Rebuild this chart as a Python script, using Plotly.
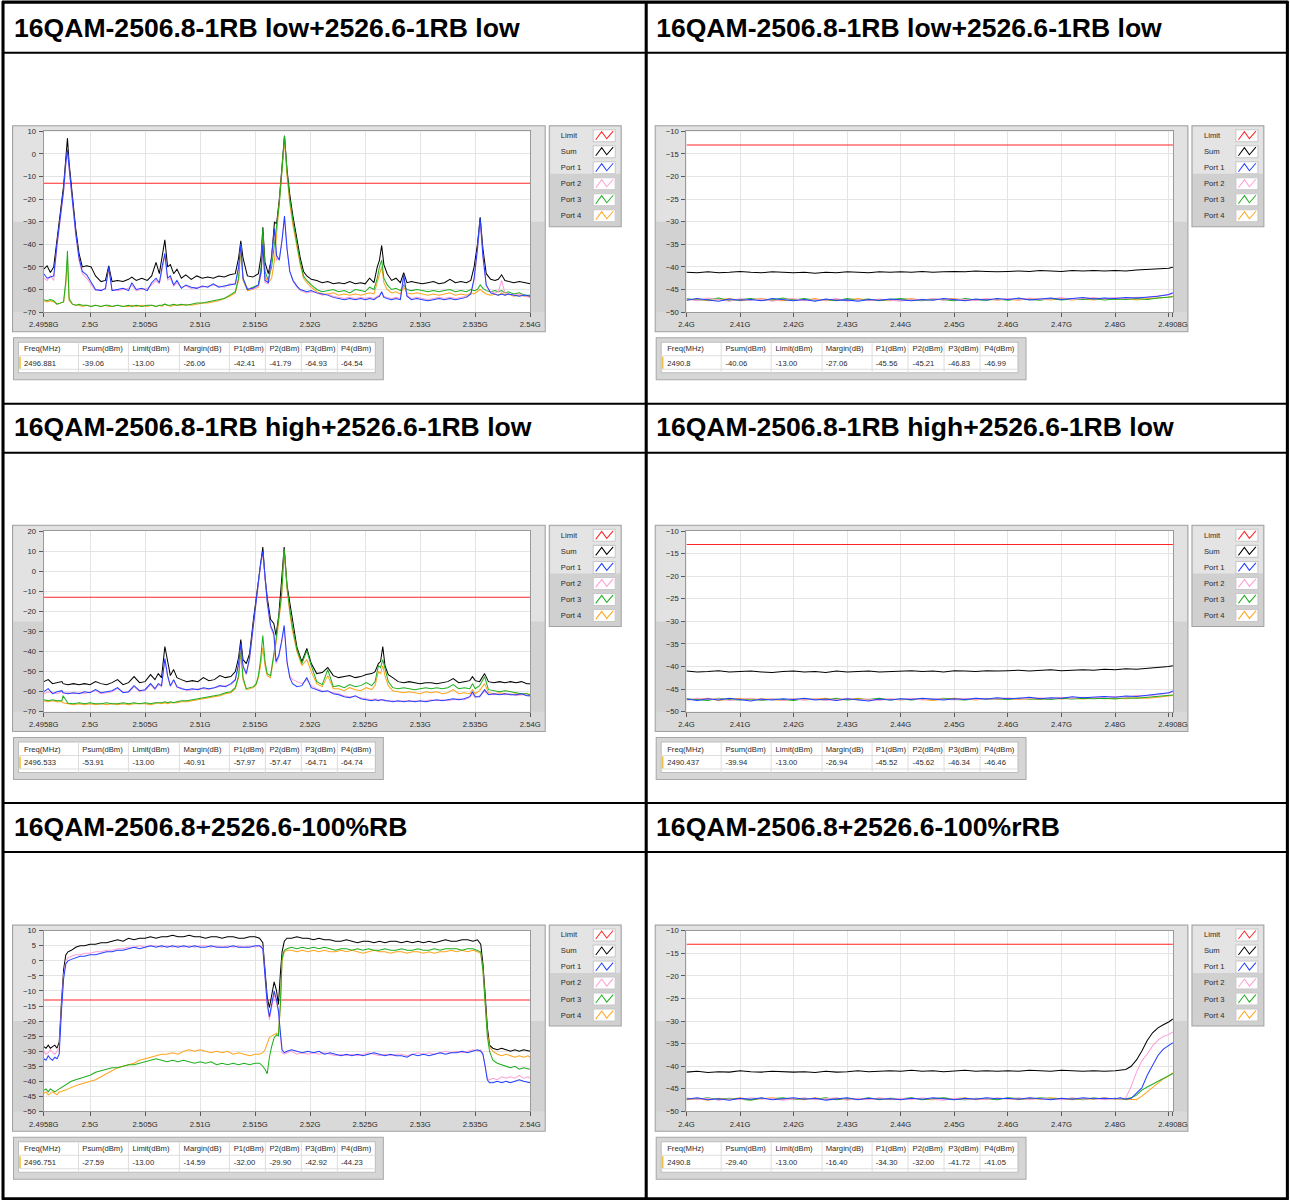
import plotly.graph_objects as go

W, H = 1290, 1200
FONT = "Liberation Sans, Arial, sans-serif"

TITLES = [
    "16QAM-2506.8-1RB low+2526.6-1RB low",
    "16QAM-2506.8-1RB low+2526.6-1RB low",
    "16QAM-2506.8-1RB high+2526.6-1RB low",
    "16QAM-2506.8-1RB high+2526.6-1RB low",
    "16QAM-2506.8+2526.6-100%RB",
    "16QAM-2506.8+2526.6-100%rRB",
]
SERIES_NAMES = ["Limit", "Sum", "Port 1", "Port 2", "Port 3", "Port 4"]
SERIES_COLORS = ["#ff2424", "#000000", "#2040ff", "#ff9ed6", "#1fae1f", "#ffa41c"]
LIMIT_DBM = -13.0

LEFT_TICK_VALS = [2495.8, 2500, 2505, 2510, 2515, 2520, 2525, 2530, 2535, 2540]
LEFT_TICK_TEXT = ["2.4958G", "2.5G", "2.505G", "2.51G", "2.515G", "2.52G", "2.525G", "2.53G", "2.535G", "2.54G"]
RIGHT_TICK_VALS = [2400, 2410, 2420, 2430, 2440, 2450, 2460, 2470, 2480, 2490, 2490.8]
RIGHT_TICK_TEXT = ["2.4G", "2.41G", "2.42G", "2.43G", "2.44G", "2.45G", "2.46G", "2.47G", "2.48G", "", "2.4908G"]

TABLE_HEADER = ["Freq(MHz)", "Psum(dBm)", "Limit(dBm)", "Margin(dB)", "P1(dBm)", "P2(dBm)", "P3(dBm)", "P4(dBm)"]
TABLE_1 = ["2496.881", "-39.06", "-13.00", "-26.06", "-42.41", "-41.79", "-64.93", "-64.54"]
TABLE_2 = ["2490.8", "-40.06", "-13.00", "-27.06", "-45.56", "-45.21", "-46.83", "-46.99"]
TABLE_3 = ["2496.533", "-53.91", "-13.00", "-40.91", "-57.97", "-57.47", "-64.71", "-64.74"]
TABLE_4 = ["2490.437", "-39.94", "-13.00", "-26.94", "-45.52", "-45.62", "-46.34", "-46.46"]
TABLE_5 = ["2496.751", "-27.59", "-13.00", "-14.59", "-32.00", "-29.90", "-42.92", "-44.23"]
TABLE_6 = ["2490.8", "-29.40", "-13.00", "-16.40", "-34.30", "-32.00", "-41.72", "-41.05"]

# ---------------- chart 1 (MHz / dBm) ----------------
C1_X = [2495.8, 2496.1, 2496.4, 2496.7, 2497.0, 2497.3, 2497.6, 2497.8, 2497.95, 2498.1,
        2498.4, 2498.7, 2499.0, 2499.3, 2499.7, 2500.1, 2500.5, 2501.0, 2501.4, 2501.7,
        2502.0, 2502.5, 2503.0, 2503.5, 2503.8, 2504.2, 2504.7, 2505.2, 2505.6, 2506.0,
        2506.3, 2506.55, 2506.8, 2507.05, 2507.3, 2507.6, 2507.9, 2508.3, 2508.7, 2509.2,
        2509.7, 2510.2, 2510.7, 2511.2, 2511.7, 2512.2, 2512.7, 2513.2, 2513.5, 2513.7,
        2513.9, 2514.3, 2514.8, 2515.3, 2515.55, 2515.7, 2515.9, 2516.2, 2516.5, 2516.76,
        2516.95, 2517.2, 2517.45, 2517.67, 2517.9, 2518.15, 2518.45, 2518.8, 2519.1, 2519.4,
        2519.7, 2520.1, 2520.6, 2521.1, 2521.6, 2522.1, 2522.6, 2523.1, 2523.6, 2524.1,
        2524.6, 2525.0, 2525.4, 2525.8, 2526.1, 2526.3, 2526.5, 2526.7, 2527.0, 2527.4,
        2527.8, 2528.2, 2528.5, 2528.8, 2529.2, 2529.7, 2530.2, 2530.7, 2531.2, 2531.7,
        2532.2, 2532.7, 2533.2, 2533.7, 2534.2, 2534.6, 2534.9, 2535.2, 2535.45, 2535.7,
        2536.0, 2536.4, 2536.8, 2537.1, 2537.4, 2537.7, 2538.0, 2538.5, 2539.0, 2539.5,
        2540.0]
C1_SUM = [-51, -49.5, -52.5, -50, -38, -26, -14, -2, 7, -4,
          -20, -33, -44, -50, -49.5, -50, -54, -56.5, -56, -49.5,
          -56.5, -56, -56.5, -55.5, -54.5, -56, -55, -56, -54, -48,
          -53, -46, -38, -50, -49, -53, -51, -55, -53.5, -55.5,
          -54, -55, -54.5, -55, -54, -54.5, -53.5, -53, -46, -38.5,
          -46, -54, -54.5, -53, -45, -32.5, -48, -53, -46, -30,
          -31, -20, -5, 8, -7, -18, -28, -38, -46, -52,
          -54, -55.5, -56, -57, -56.5, -57.5, -57, -57.5, -56.5, -57.5,
          -57, -57.5, -55, -57, -50, -47, -40.5, -49, -53, -56,
          -55, -57, -52.5, -57, -56.5, -57, -57.5, -57, -56.5, -57.5,
          -57, -55.5, -57, -56.5, -57, -56, -50, -40, -28, -42,
          -53, -55.5, -56, -55.5, -53.5, -56, -56.5, -57, -56.5, -57,
          -57.5]
C1_P1 = [-53, -55, -54.5, -54, -40, -28, -16, -4, 2, -6,
         -22, -35, -46, -52, -53.5, -57, -60, -60.5, -59.5, -50,
         -60.5, -60, -59.5, -60.5, -57, -60, -59.5, -60.5, -57, -55,
         -57, -50, -44, -55, -54, -58, -56, -59.5, -58, -59,
         -59.5, -58.5, -59, -57.5, -59, -58.5, -58, -57.5, -50, -40,
         -55, -60, -59.5, -58, -52, -40, -56, -57, -45, -33,
         -45, -47, -38, -27.5, -42, -52, -56, -58.5, -60, -60.5,
         -61, -60.5, -61.5, -62, -62.5, -63.5, -64, -64.5, -64, -64.5,
         -64, -64.5, -64, -64.5, -63.5, -63, -61, -63.5, -64, -64.5,
         -64, -64.5, -53.5, -63, -64.5, -64, -64.5, -65, -64.5, -64,
         -64.5, -64, -64.5, -64, -63.5, -62, -55, -42, -28.5, -45,
         -58, -61.5, -62, -62.5, -62, -62.5, -62, -62.5, -63, -62.5,
         -63]
C1_P2 = [-55, -56, -54, -56, -41, -29, -17, -5, 1, -7,
         -23, -36, -47, -53, -55, -58, -60.5, -60, -60, -51,
         -60, -60.5, -60, -59.5, -58, -60.5, -60, -59.5, -58, -56,
         -57.5, -51, -45, -56, -55, -58.5, -57, -59, -58.5, -59.5,
         -59, -59, -58.5, -58, -58.5, -59, -57.5, -58, -51, -41,
         -55.5, -59.5, -60, -58.5, -53, -42, -57, -57.5, -46, -34,
         -47, -46, -38, -28.5, -42, -52, -56.5, -59, -60.5, -61,
         -61.5, -61, -61.5, -62.5, -62, -63, -63.5, -64, -63.5, -64,
         -63.5, -64, -63.5, -64, -63, -62.5, -61.5, -63, -63.5, -64,
         -63.5, -64, -55, -62.5, -64, -63.5, -64, -64.5, -64, -63.5,
         -64, -63.5, -64, -63.5, -63, -62, -56, -43, -30, -46,
         -58.5, -61, -61.5, -61, -56, -61.5, -62, -62.5, -62, -63,
         -63.5]
C1_P3 = [-64.5, -65, -64.5, -65, -66.5, -66, -65.5, -56, -43, -64,
         -66.5, -67, -66.5, -67, -67, -67.5, -67, -67.5, -67, -67,
         -67.5, -67, -67.5, -67, -67.5, -67, -67.5, -67, -67, -67.5,
         -67, -67, -66.5, -67, -67, -66.5, -67, -66.5, -67, -66.5,
         -66, -66, -65.5, -65, -64.5, -64, -62.5, -61, -55, -40,
         -55, -60, -59, -58, -50, -33, -52, -56, -50, -40,
         -33, -22, -7, 8, -8, -20, -30, -40, -48, -54,
         -56, -58, -60, -61, -60.5, -60, -61, -60.5, -61.5, -60,
         -60.5, -61, -59, -60, -55, -50, -47, -55, -58, -60,
         -59.5, -60.5, -58, -60, -60.5, -60, -60.5, -61, -60.5, -61,
         -60.5, -60, -61, -60.5, -61, -60, -60.5, -60, -58, -59.5,
         -60.5, -61, -60.5, -61, -60.5, -61.5, -61, -62, -61.5, -62.5,
         -62.5]
C1_P4 = [-65, -65.5, -65, -65.5, -66.5, -66, -65.5, -58, -47, -65,
         -66.5, -67, -67, -67.5, -67, -67.5, -67, -67.5, -67, -67.5,
         -67.5, -67, -67.5, -67.5, -67, -67.5, -67, -67.5, -67, -67.5,
         -67, -67.5, -66.5, -67, -67.5, -67, -67, -67, -66.5, -67,
         -66.5, -66, -66, -65.5, -65, -64, -63, -61.5, -56, -42,
         -56, -60.5, -60, -59, -52, -36, -54, -57, -55, -47,
         -36, -24, -9, 6, -10, -22, -32, -42, -49, -55,
         -57, -59, -61, -62, -62, -61.5, -62.5, -62, -62.5, -62,
         -62.5, -62, -61.5, -62, -57, -53, -50, -57, -60, -61.5,
         -61, -62, -59, -61.5, -62, -61.5, -62, -62.5, -62, -62.5,
         -62, -61.5, -62.5, -62, -62.5, -61.5, -62, -61, -60, -61,
         -62, -62.5, -62, -62.5, -61.5, -62.5, -62, -63, -62.5, -63,
         -63]

# ---------------- charts 2 and 4 (MHz / dBm) ----------------
C2_X = [2400, 2402, 2404, 2406, 2408, 2410, 2412, 2414, 2416, 2418,
        2420, 2422, 2424, 2426, 2428, 2430, 2432, 2434, 2436, 2438,
        2440, 2442, 2444, 2446, 2448, 2450, 2452, 2454, 2456, 2458,
        2460, 2462, 2464, 2466, 2468, 2470, 2472, 2474, 2476, 2478,
        2480, 2482, 2484, 2486, 2488, 2490, 2490.8]
C2_SUM = [-41.2, -41.3, -41.1, -41.3, -41.2, -41.0, -41.2, -41.3, -41.1, -41.2,
          -41.3, -41.2, -41.4, -41.2, -41.3, -41.1, -41.2, -41.3, -41.1, -41.2,
          -41.1, -41.2, -41.0, -41.2, -41.1, -41.0, -41.1, -40.9, -41.0, -41.1,
          -41.0, -40.9, -41.0, -40.8, -40.9, -41.0, -40.8, -40.9, -40.8, -40.9,
          -40.8, -40.9, -40.7, -40.6, -40.5, -40.3, -40.1]
C2_P1 = [-47.4, -47.0, -47.3, -47.6, -47.1, -47.4, -47.2, -47.5, -47.0, -47.3,
         -47.5, -47.2, -47.6, -47.1, -47.4, -47.3, -47.6, -47.2, -47.4, -47.1,
         -47.3, -47.5, -47.2, -47.4, -47.0, -47.3, -47.5, -47.1, -47.3, -47.0,
         -47.2, -46.9, -47.3, -47.1, -46.9, -47.2, -47.0, -46.8, -47.1, -46.9,
         -47.0, -46.8, -46.9, -46.7, -46.5, -46.1, -45.7]
C2_P2 = [-47.1, -47.5, -46.9, -47.3, -47.6, -47.0, -47.4, -47.1, -47.6, -47.2,
         -47.0, -47.5, -47.2, -47.4, -47.0, -47.6, -47.2, -47.5, -47.1, -47.4,
         -47.6, -47.1, -47.4, -47.0, -47.4, -47.1, -47.2, -47.5, -47.0, -47.3,
         -47.0, -47.3, -46.9, -47.2, -47.1, -46.8, -47.2, -47.0, -46.8, -47.1,
         -46.8, -47.0, -46.7, -46.8, -46.4, -46.2, -45.9]
C2_P3 = [-47.0, -47.4, -47.2, -46.9, -47.5, -47.2, -47.0, -47.4, -47.3, -46.9,
         -47.3, -47.0, -47.4, -47.2, -47.5, -47.0, -47.3, -47.1, -47.5, -47.2,
         -47.0, -47.3, -47.5, -47.1, -47.3, -47.5, -47.0, -47.3, -47.4, -47.1,
         -47.4, -47.1, -47.2, -47.4, -47.0, -47.3, -47.1, -47.2, -47.0, -47.3,
         -47.1, -47.2, -47.0, -47.2, -46.9, -46.8, -46.6]
C2_P4 = [-47.3, -47.1, -47.5, -47.2, -47.0, -47.5, -47.3, -47.0, -47.4, -47.5,
         -47.2, -47.4, -47.0, -47.5, -47.2, -47.4, -47.0, -47.4, -47.3, -47.5,
         -47.2, -47.0, -47.4, -47.3, -47.1, -47.0, -47.4, -47.2, -47.1, -47.4,
         -47.1, -47.4, -47.0, -47.1, -47.3, -47.0, -47.3, -47.1, -47.3, -47.0,
         -47.2, -47.0, -47.3, -47.0, -46.9, -46.7, -46.5]

C4_X = C2_X
C4_SUM = [-41.0, -41.2, -41.1, -40.9, -41.2, -41.1, -41.0, -41.2, -41.3, -41.1,
          -41.0, -41.2, -41.1, -41.3, -41.0, -41.2, -41.1, -41.0, -41.2, -41.1,
          -41.0, -40.9, -41.1, -41.0, -41.2, -40.9, -41.0, -41.1, -40.9, -41.0,
          -40.9, -40.8, -41.0, -40.9, -40.7, -40.9, -40.8, -40.7, -40.8, -40.6,
          -40.7, -40.5, -40.6, -40.4, -40.3, -40.0, -39.8]
C4_P1 = [-47.2, -47.5, -47.1, -47.4, -47.0, -47.3, -47.6, -47.2, -47.4, -47.1,
         -47.3, -47.0, -47.4, -47.2, -47.5, -47.1, -47.3, -47.6, -47.2, -47.4,
         -47.1, -47.3, -47.0, -47.2, -47.4, -47.1, -47.3, -47.0, -47.2, -46.9,
         -47.1, -47.0, -46.8, -47.1, -46.9, -47.0, -46.7, -46.9, -46.8, -46.6,
         -46.8, -46.5, -46.6, -46.3, -46.1, -45.8, -45.4]
C4_P2 = [-47.4, -47.0, -47.3, -47.1, -47.5, -47.2, -47.0, -47.4, -47.1, -47.5,
         -47.2, -47.4, -47.1, -47.5, -47.3, -47.0, -47.4, -47.2, -47.5, -47.1,
         -47.3, -47.0, -47.4, -47.1, -47.2, -47.4, -47.0, -47.3, -47.1, -47.2,
         -46.9, -47.2, -47.0, -46.9, -47.1, -46.8, -47.0, -46.8, -46.9, -46.7,
         -46.6, -46.8, -46.4, -46.5, -46.2, -45.9, -45.6]
C4_P3 = [-47.1, -47.3, -47.5, -47.0, -47.3, -47.4, -47.1, -47.5, -47.2, -47.3,
         -47.5, -47.1, -47.3, -47.4, -47.0, -47.4, -47.2, -47.3, -47.0, -47.4,
         -47.2, -47.4, -47.1, -47.3, -47.0, -47.3, -47.4, -47.1, -47.3, -47.1,
         -47.3, -47.0, -47.2, -47.1, -47.3, -47.0, -47.2, -47.0, -47.1, -47.0,
         -47.2, -46.9, -47.0, -46.8, -46.7, -46.5, -46.3]
C4_P4 = [-47.4, -47.2, -47.0, -47.5, -47.2, -47.0, -47.4, -47.1, -47.3, -47.5,
         -47.1, -47.4, -47.2, -47.0, -47.4, -47.3, -47.0, -47.4, -47.3, -47.2,
         -47.4, -47.1, -47.3, -47.5, -47.2, -47.0, -47.2, -47.4, -47.0, -47.3,
         -47.1, -47.3, -47.1, -47.3, -47.0, -47.2, -47.0, -47.2, -47.0, -47.1,
         -47.0, -47.1, -46.9, -47.0, -46.8, -46.6, -46.4]

# ---------------- chart 3 (MHz / dBm) ----------------
C3_X = [2495.8, 2496.2, 2496.6, 2497.0, 2497.45, 2497.55, 2498.0, 2498.5, 2499.0, 2499.5,
        2500.0, 2500.5, 2501.0, 2501.5, 2502.0, 2502.5, 2503.0, 2503.5, 2504.0, 2504.5,
        2505.0, 2505.5, 2505.9, 2506.2, 2506.5, 2506.8, 2507.05, 2507.3, 2507.6, 2507.9,
        2508.3, 2508.8, 2509.3, 2509.8, 2510.3, 2510.8, 2511.3, 2511.8, 2512.3, 2512.8,
        2513.2, 2513.5, 2513.7, 2513.9, 2514.2, 2514.5, 2514.85, 2515.1, 2515.3, 2515.5,
        2515.7, 2515.9, 2516.1, 2516.4, 2516.7, 2516.9, 2517.15, 2517.4, 2517.64, 2517.9,
        2518.15, 2518.4, 2518.8, 2519.25, 2519.7, 2520.1, 2520.6, 2521.1, 2521.6, 2522.1,
        2522.6, 2523.1, 2523.6, 2524.1, 2524.6, 2525.1, 2525.6, 2525.9, 2526.2, 2526.4,
        2526.6, 2526.8, 2527.1, 2527.5, 2528.0, 2528.5, 2529.0, 2529.5, 2530.0, 2530.5,
        2531.0, 2531.5, 2532.0, 2532.5, 2533.0, 2533.5, 2534.0, 2534.5, 2534.75, 2535.0,
        2535.4, 2535.85, 2536.2, 2536.7, 2537.2, 2537.7, 2538.2, 2538.7, 2539.2, 2539.7,
        2540.0]
C3_SUM = [-55, -54, -56, -55.5, -55, -56, -56.5, -56, -56.5, -56,
          -56.5, -55, -56, -56.5, -55.5, -54, -56.5, -55.5, -52.5, -55.5,
          -55, -51.5, -54, -51, -53, -37.5, -45.5, -52, -49, -53,
          -54, -55, -54.5, -55, -53, -54.5, -54, -52, -53, -52.5,
          -50, -43, -34, -44, -46, -41, -24, -13, -3, 5,
          12, -3, -13, -24, -26, -32, -22, -5, 12, -7,
          -16, -26, -38, -45, -38.5, -46, -51, -50.5, -48, -52,
          -53, -52.5, -52, -53, -52.5, -51.5, -51, -50, -46, -45,
          -37.5, -47, -51.5, -53, -55, -55.5, -55, -55.5, -56, -55.5,
          -55.5, -56, -55.5, -55, -53.5, -55.5, -55, -54.5, -52.5, -54.5,
          -55, -51, -55, -55.5, -55, -55.5, -55, -55.5, -55, -56,
          -56]
C3_P1 = [-60, -58.5, -61, -60, -59.5, -60.5, -61, -60.5, -61, -60,
         -60.5, -59, -60.5, -60, -59.5, -58, -60.5, -60, -57, -59.5,
         -59, -56, -58.5, -56, -57, -43.5, -52, -57, -54, -57.5,
         -58.5, -59, -58.5, -59, -58, -58.5, -58, -57, -57.5, -56,
         -54, -46, -36, -47, -51, -43, -26, -14, -4, 4,
         10, -4, -15, -27, -31, -45, -42, -35, -27, -45,
         -53, -56, -57.5, -57, -53, -58, -59, -60, -59.5, -61,
         -61.5, -62.5, -63, -62, -63.5, -64, -64.5, -64, -64.5, -64,
         -64, -64.5, -64.5, -65, -64.5, -65, -64.5, -65, -64.5, -65,
         -64.5, -64, -64.5, -64, -63.5, -64, -63.5, -62.5, -60, -62.5,
         -62.5, -59, -61.5, -61, -61.5, -61, -61.5, -61.5, -61, -62,
         -62]
C3_P2 = [-61, -60, -60.5, -61, -60, -61, -60.5, -61, -60.5, -61,
         -60, -59.5, -61, -60.5, -60, -58.5, -60, -60.5, -57.5, -60,
         -59.5, -56.5, -59, -56.5, -57.5, -44, -52.5, -57.5, -54.5, -58,
         -58, -59.5, -59, -58.5, -58.5, -59, -58, -57.5, -57, -56.5,
         -54.5, -47, -37, -48, -51.5, -44, -27, -15, -5, 3,
         9, -5, -16, -28, -32, -46, -43, -36, -28, -46,
         -52, -54, -55, -56, -54, -57, -58.5, -59.5, -60, -60.5,
         -61, -62, -62.5, -62.5, -63, -63.5, -64, -63.5, -64, -64.5,
         -64.5, -64, -65, -64.5, -65, -64.5, -65, -64.5, -65, -64.5,
         -64, -64.5, -64, -64.5, -64, -63.5, -64, -63, -61, -63,
         -62, -60, -61, -61.5, -61, -61.5, -61, -62, -61.5, -61.5,
         -62.5]
C3_P3 = [-64, -64.5, -64, -64.5, -64.5, -62, -65.8, -66, -65.5, -66,
         -65.5, -66, -66, -65.5, -66, -66, -65.5, -66, -65.5, -66,
         -65.5, -66, -65.5, -65.5, -65.5, -65, -65.5, -65, -65.5, -65,
         -64.5, -64.5, -64, -63.5, -63, -62.5, -62, -61.5, -60.5, -60,
         -58, -52, -38, -53, -58.5, -58, -57.5, -56, -52, -44,
         -32, -45, -51, -52, -42, -34, -23, -12, 11, -8,
         -19, -28, -39, -46, -39.5, -47, -55, -56.5, -49, -57.5,
         -57, -58, -56.5, -57.5, -57, -55.5, -57, -55, -47, -48,
         -44, -48, -55, -58, -58.5, -58, -58.5, -59, -58.5, -58,
         -58.5, -58, -58.5, -58, -56.5, -58.5, -58, -58.5, -56, -58.5,
         -57, -52.5, -59, -59.5, -60, -59.5, -60, -60.5, -61, -61,
         -61.5]
C3_P4 = [-64.5, -65, -64.5, -65, -65, -65.5, -66, -66.5, -66, -66.5,
         -66, -66.5, -66, -66.5, -66, -66.5, -66, -66.5, -66, -66,
         -66, -66.5, -66, -65.5, -66, -65.5, -66, -65.5, -65.5, -65.5,
         -65, -65, -64.5, -64, -63.5, -63, -62.5, -62, -61, -60.5,
         -58.5, -53, -40, -54, -59, -58.5, -58, -56.5, -53, -47,
         -38, -47, -52, -53, -44, -36, -25, -13, 10, -9,
         -21, -30, -40, -47, -44, -50, -56, -57.5, -52, -58.5,
         -58.5, -59.5, -58, -59, -59.5, -58, -59, -57, -50, -51,
         -47, -52, -57, -59.5, -60, -60.5, -60, -60.5, -61, -60,
         -60.5, -60, -61, -60.5, -59, -61, -60.5, -61, -59, -61,
         -59.5, -56, -60.5, -61, -60.5, -61, -61.5, -61, -61.5, -61,
         -61.5]

# ---------------- chart 5 (MHz / dBm) ----------------
C5_X = [2495.8, 2496.0, 2496.2, 2496.4, 2496.6, 2496.8, 2497.0, 2497.2, 2497.4, 2497.6,
        2497.8, 2498.0, 2498.3, 2498.7, 2499.1, 2499.5, 2500.0, 2500.5, 2501.0, 2501.5,
        2502.0, 2502.5, 2503.0, 2503.5, 2504.0, 2504.5, 2505.0, 2505.5, 2506.0, 2506.5,
        2507.0, 2507.5, 2508.0, 2508.5, 2509.0, 2509.5, 2510.0, 2510.5, 2511.0, 2511.5,
        2512.0, 2512.5, 2513.0, 2513.5, 2514.0, 2514.5, 2515.0, 2515.4, 2515.7, 2515.9,
        2516.1, 2516.3, 2516.5, 2516.73, 2516.95, 2517.12, 2517.3, 2517.45, 2517.65, 2517.9,
        2518.3, 2518.8, 2519.3, 2519.8, 2520.3, 2520.8, 2521.3, 2521.8, 2522.3, 2522.8,
        2523.3, 2523.8, 2524.3, 2524.8, 2525.3, 2525.8, 2526.3, 2526.8, 2527.3, 2527.8,
        2528.3, 2528.8, 2529.3, 2529.8, 2530.3, 2530.8, 2531.3, 2531.8, 2532.3, 2532.8,
        2533.3, 2533.8, 2534.3, 2534.8, 2535.2, 2535.5, 2535.7, 2535.9, 2536.1, 2536.3,
        2536.6, 2537.0, 2537.4, 2537.8, 2538.2, 2538.6, 2539.0, 2539.4, 2539.8, 2540.0]
C5_SUM = [-28.5, -29, -28, -29, -28.5, -28, -29, -27, -14, -3,
          2, 3, 3.5, 4.5, 5, 5, 5.5, 5.5, 6, 6,
          6.5, 7, 6.5, 7.5, 7, 7.5, 7.5, 8, 7.5, 8,
          8, 8.5, 8, 8, 8.5, 8, 8, 7.5, 8, 8,
          7.5, 8, 8, 7.5, 7.5, 8, 8, 7.5, 6, -3,
          -12, -15.5, -11, -7, -10, -14.5, -4, 3, 6.5, 7.5,
          7.5, 8, 7.5, 7.5, 7, 7.5, 7, 7, 6.5, 6.5,
          7, 6.5, 6, 6.5, 6.5, 6, 6.5, 6, 6.5, 6.5,
          6, 6.5, 6, 6.5, 6, 6.5, 6, 6.5, 7, 6.5,
          6.5, 7, 7, 6.5, 7, 5.5, -1, -11, -22, -28,
          -29, -29.5, -29, -29.5, -30, -29.5, -30, -29.5, -30, -30]
C5_P1 = [-32.5, -33, -31.5, -32.5, -33, -32, -32.5, -31, -17, -6,
         -1, 0, 0.5, 1, 1.5, 1.5, 2, 2, 2.5, 3,
         3, 3.5, 3.5, 4, 4.5, 4, 4.5, 5, 4.5, 5,
         4.5, 5, 4.5, 5, 4.5, 5, 4.5, 4.5, 5, 4.5,
         4.5, 4.5, 5, 4.5, 4.5, 4.5, 5, 5, 4, -5,
         -14, -18.5, -14, -10, -13, -16.5, -24, -29.5, -30.5, -30,
         -29.5, -30, -30.5, -30, -30.5, -30, -31, -30.5, -31, -31.5,
         -31, -31.5, -31, -31.5, -31, -30.5, -31, -31.5, -31, -31.5,
         -31.5, -32, -31, -31.5, -31, -31.5, -31, -30.5, -31, -30.5,
         -30.5, -30, -30.5, -30, -29.5, -30, -31, -35, -39.5, -40.5,
         -40.5, -40, -40.5, -40, -40.5, -40, -39.5, -40, -40.5, -40.5]
C5_P2 = [-30, -31, -30.5, -29.5, -30.5, -31, -30, -29, -16, -5,
         0, 1, 1.5, 2, 2, 2.5, 2.5, 3, 3, 3.5,
         3.5, 4, 4, 4.5, 4.5, 5, 4.5, 5, 5, 4.5,
         5, 4.5, 5, 4.5, 5, 4.5, 5, 5, 4.5, 5,
         4.5, 5, 4.5, 5, 4.5, 5, 4.5, 5, 4.5, -5.5,
         -15, -19.5, -15, -11, -14, -17, -25, -30.5, -31, -30.5,
         -30, -31, -30.5, -31, -30.5, -31, -30.5, -31, -31.5, -31,
         -31.5, -31, -31.5, -31, -30.5, -31, -31.5, -31, -31.5, -31,
         -31, -31.5, -31, -30.5, -31, -30.5, -31, -30.5, -30, -30.5,
         -30, -30.5, -30, -29.5, -30, -29.5, -31, -35, -39, -39.5,
         -39, -39.5, -38.5, -39, -38.5, -39, -38, -39, -38.5, -39]
C5_P3 = [-43, -42.5, -43.5, -42.5, -43, -43.5, -43, -42.5, -42, -41.5,
         -41, -40.5, -40, -39.5, -39, -38.5, -38, -37, -36.5, -36,
         -35.5, -35.5, -35, -34.5, -34.5, -34, -33.5, -33, -32.5, -33,
         -33.5, -33, -33.5, -33, -33.5, -34, -33.5, -34, -33.5, -34.5,
         -34, -34.5, -34, -34.5, -34, -34.5, -34, -34, -35, -36,
         -37.5, -32, -28.5, -25.5, -24.5, -25, -14, 1, 3.5, 4,
         4.5, 4, 4.5, 4, 4.5, 4, 4.5, 4, 3.5, 4,
         4, 3.5, 4, 3.5, 4, 3.5, 3.5, 4, 3.5, 3.5,
         4, 3.5, 3.5, 4, 3.5, 3.5, 4, 3.5, 4, 4,
         4, 3.5, 4, 4, 3.5, 3, -3, -14, -25, -30,
         -33, -34, -34.5, -35, -35.5, -35, -36, -35.5, -36, -36]
C5_P4 = [-44, -43.5, -44.5, -44, -43.5, -44, -44.5, -43.5, -43.5, -43,
         -43, -42.5, -42, -41.5, -41, -40.5, -40, -39.5, -38.5, -37.5,
         -36.5, -35.5, -35, -34.5, -34, -33, -32.5, -32, -31.5, -31,
         -31, -30.5, -31, -30, -29.5, -30, -29.5, -30, -30.5, -30,
         -30.5, -30, -31, -30.5, -31, -31.5, -31, -31, -30.5, -29.5,
         -27.5, -25.5, -25, -24.5, -24, -24.5, -15, 0, 3, 3.5,
         3.5, 3, 3.5, 3, 3.5, 3, 3.5, 3, 3, 3.5,
         3, 3.5, 3, 2.5, 3, 3.5, 3, 3, 2.5, 3,
         3, 2.5, 3, 3, 2.5, 3, 2.5, 3, 3, 3.5,
         3, 3.5, 3, 3.5, 3, 2.5, -3, -14, -24, -28.5,
         -30, -31, -31.5, -31, -31.5, -32, -31.5, -32, -31.5, -32]

# ---------------- chart 6 (MHz / dBm) ----------------
C6_X = [2400, 2402, 2404, 2406, 2408, 2410, 2412, 2414, 2416, 2418,
        2420, 2422, 2424, 2426, 2428, 2430, 2432, 2434, 2436, 2438,
        2440, 2442, 2444, 2446, 2448, 2450, 2452, 2454, 2456, 2458,
        2460, 2462, 2464, 2466, 2468, 2470, 2472, 2474, 2476, 2478,
        2480, 2481, 2482, 2483, 2484, 2485, 2486, 2487, 2488, 2489,
        2490, 2490.8]
C6_SUM = [-41.3, -41.1, -41.4, -41.2, -41.3, -41.0, -41.2, -41.3, -41.1, -41.2,
          -41.3, -41.2, -41.4, -41.1, -41.3, -41.2, -41.0, -41.2, -41.1, -41.0,
          -41.1, -40.9, -41.1, -41.0, -41.2, -41.0, -40.9, -41.1, -41.0, -41.1,
          -41.0, -41.1, -40.9, -41.0, -41.1, -40.9, -41.0, -41.1, -41.0, -41.1,
          -41.0, -40.9, -40.7, -40.0, -38.6, -36.6, -34.3, -32.6, -31.5, -30.8,
          -30.2, -29.5]
C6_P1 = [-47.3, -47.0, -47.4, -47.2, -47.5, -47.1, -47.3, -47.0, -47.4, -47.2,
         -47.0, -47.3, -47.1, -47.5, -47.2, -47.0, -47.4, -47.1, -47.3, -47.2,
         -47.4, -47.1, -47.3, -47.0, -47.2, -47.4, -47.1, -47.3, -47.0, -47.2,
         -47.1, -47.3, -47.0, -47.2, -47.4, -47.1, -47.3, -47.0, -47.2, -47.1,
         -47.2, -47.0, -47.3, -47.1, -46.0, -44.8, -42.0, -39.8, -37.6, -36.2,
         -35.4, -34.8]
C6_P2 = [-47.0, -47.4, -47.1, -47.5, -47.2, -47.4, -47.0, -47.3, -47.1, -47.5,
         -47.3, -47.0, -47.4, -47.2, -47.0, -47.5, -47.1, -47.4, -47.0, -47.3,
         -47.1, -47.4, -47.0, -47.3, -47.5, -47.1, -47.3, -47.2, -47.4, -47.0,
         -47.3, -47.0, -47.4, -47.1, -47.2, -47.4, -47.0, -47.3, -47.1, -47.4,
         -47.1, -47.3, -47.0, -44.5, -41.3, -38.8, -37.3, -35.5, -34.2, -33.4,
         -33.0, -32.4]
C6_P3 = [-47.1, -47.3, -47.0, -47.4, -47.1, -47.3, -47.5, -47.1, -47.2, -47.0,
         -47.4, -47.1, -47.3, -47.0, -47.4, -47.2, -47.3, -47.0, -47.4, -47.1,
         -47.2, -47.0, -47.4, -47.2, -47.0, -47.3, -47.4, -47.1, -47.2, -47.4,
         -47.0, -47.2, -47.3, -47.0, -47.2, -47.3, -47.1, -47.4, -47.0, -47.3,
         -47.1, -47.3, -47.2, -47.0, -46.4, -45.3, -44.6, -44.0, -43.3, -42.7,
         -42.1, -41.6]
C6_P4 = [-47.4, -47.2, -47.5, -47.1, -47.3, -47.0, -47.4, -47.2, -47.0, -47.3,
         -47.2, -47.4, -47.0, -47.3, -47.1, -47.4, -47.2, -47.3, -47.1, -47.4,
         -47.3, -47.1, -47.3, -47.4, -47.1, -47.2, -47.0, -47.4, -47.3, -47.1,
         -47.2, -47.4, -47.1, -47.3, -47.0, -47.2, -47.4, -47.2, -47.3, -47.0,
         -47.3, -47.2, -47.4, -47.3, -47.4, -46.6, -45.6, -44.6, -43.6, -42.8,
         -42.2, -41.4]

PANELS = [
    dict(x=C1_X, ys=[C1_SUM, C1_P1, C1_P2, C1_P3, C1_P4], xr=[2495.8, 2540], yr=[-70, 10], dy=10, side="L", table=TABLE_1),
    dict(x=C2_X, ys=[C2_SUM, C2_P1, C2_P2, C2_P3, C2_P4], xr=[2400, 2490.8], yr=[-50, -10], dy=5, side="R", table=TABLE_2),
    dict(x=C3_X, ys=[C3_SUM, C3_P1, C3_P2, C3_P3, C3_P4], xr=[2495.8, 2540], yr=[-70, 20], dy=10, side="L", table=TABLE_3),
    dict(x=C4_X, ys=[C4_SUM, C4_P1, C4_P2, C4_P3, C4_P4], xr=[2400, 2490.8], yr=[-50, -10], dy=5, side="R", table=TABLE_4),
    dict(x=C5_X, ys=[C5_SUM, C5_P1, C5_P2, C5_P3, C5_P4], xr=[2495.8, 2540], yr=[-50, 10], dy=5, side="L", table=TABLE_5),
    dict(x=C6_X, ys=[C6_SUM, C6_P1, C6_P2, C6_P3, C6_P4], xr=[2400, 2490.8], yr=[-50, -10], dy=5, side="R", table=TABLE_6),
]
for p in PANELS:
    for s in p["ys"]:
        assert len(s) == len(p["x"]), (len(s), len(p["x"]))

COL_OFF = [0, 643]
ROW_OFF = [0, 399.5, 799]
PLOT_BOX = (43.3, 131.7, 530.0, 312.3)
FRAME_BOX = (12, 126, 545, 332)
LEGEND_BOX = (549, 126, 621, 227)
TABLE_BOX = (13, 338, 383, 380)
TABLE_COLS = [23, 81, 131, 182, 232, 268, 304, 340]
TABLE_SEPS = [78, 128, 179, 229, 265, 301, 337]

shapes = []
annotations = []


def fx(v):
    return v / W


def fy(v):
    return 1 - v / H


def rect(x0, y0, x1, y1, fill, line=None, lw=1):
    shapes.append(dict(type="rect", xref="paper", yref="paper",
                       x0=fx(x0), x1=fx(x1), y0=fy(y1), y1=fy(y0),
                       fillcolor=fill,
                       line=dict(color=line, width=lw) if line else dict(width=0),
                       layer="below"))


def hline(x0, x1, y, color, lw=1):
    shapes.append(dict(type="line", xref="paper", yref="paper", x0=fx(x0), x1=fx(x1),
                       y0=fy(y), y1=fy(y), line=dict(color=color, width=lw), layer="below"))


def vline(x, y0, y1, color, lw=1):
    shapes.append(dict(type="line", xref="paper", yref="paper", x0=fx(x), x1=fx(x),
                       y0=fy(y0), y1=fy(y1), line=dict(color=color, width=lw), layer="below"))


def text(x, y, s, size, color="#222222", anchor="left", family=FONT):
    annotations.append(dict(xref="paper", yref="paper", x=fx(x), y=fy(y), text=s,
                            showarrow=False, xanchor=anchor, yanchor="middle",
                            borderpad=0, font=dict(size=size, color=color, family=family)))


fig = go.Figure()
layout_axes = {}

for i, p in enumerate(PANELS):
    row, col = i // 2, i % 2
    ox, oy = COL_OFF[col], ROW_OFF[row]
    n = i + 1
    xa_name = "x" if n == 1 else f"x{n}"
    ya_name = "y" if n == 1 else f"y{n}"

    # title
    text(ox + 12, oy + 28, "<b>" + TITLES[i] + "</b>", 26, "#000000")

    # graph frame
    fx0, fy0, fx1, fy1 = FRAME_BOX
    rect(ox + fx0, oy + fy0, ox + fx1, oy + fy1, "#d2d2d2", "#a2a2a2", 1)
    rect(ox + fx0 + 1, oy + fy0 + 1, ox + fx1 - 1, oy + 222, "#e2e2e2")
    rect(ox + fx0 + 1, oy + 312.3, ox + fx1 - 1, oy + fy1 - 1, "#d9d9d9")
    px0, py0, px1, py1 = PLOT_BOX
    rect(ox + px0, oy + py0, ox + px1, oy + py1, "#ffffff")

    # legend box
    lx0, ly0, lx1, ly1 = LEGEND_BOX
    rect(ox + lx0, oy + ly0, ox + lx1, oy + ly1, "#d0d0d0", "#a2a2a2", 1)
    rect(ox + lx0 + 1, oy + ly0 + 1, ox + lx1 - 1, oy + 174, "#e4e4e4")
    for k, name in enumerate(SERIES_NAMES):
        cy = oy + 136 + 16 * k
        text(ox + 560, cy, name, 7.5, "#2a2a2a")
        rect(ox + 593, cy - 6, ox + 615, cy + 6, "#ffffff", "#c8c8c8", 1)
        path = "M {:.5f},{:.5f} L {:.5f},{:.5f} L {:.5f},{:.5f} L {:.5f},{:.5f}".format(
            fx(ox + 595.5), fy(cy + 4), fx(ox + 601.5), fy(cy - 4),
            fx(ox + 606.5), fy(cy + 3), fx(ox + 613), fy(cy - 4.5))
        shapes.append(dict(type="path", xref="paper", yref="paper", path=path,
                           line=dict(color=SERIES_COLORS[k], width=1), layer="below"))

    # data table
    tx0, ty0, tx1, ty1 = TABLE_BOX
    rect(ox + tx0, oy + ty0, ox + tx1, oy + ty1, "#d6d6d6", "#a8a8a8", 1)
    rect(ox + 18, oy + 342.5, ox + 375, oy + 373, "#ffffff", "#bdbdbd", 1)
    hline(ox + 18, ox + 375, oy + 356, "#dedede")
    hline(ox + 18, ox + 375, oy + 369.5, "#dedede")
    for sx in TABLE_SEPS:
        vline(ox + sx, oy + 343, oy + 373, "#dedede")
    vline(ox + 19.5, oy + 357, oy + 369, "#f0c040", 1.5)
    for c, (hd, val) in enumerate(zip(TABLE_HEADER, p["table"])):
        text(ox + TABLE_COLS[c], oy + 349.5, hd, 7.5, "#2a2a2a")
        text(ox + TABLE_COLS[c], oy + 363, val, 7.5, "#2a2a2a")

    # traces: limit, sum, port4, port3, port2, port1
    fig.add_trace(go.Scatter(x=p["xr"], y=[LIMIT_DBM, LIMIT_DBM], mode="lines",
                             line=dict(color=SERIES_COLORS[0], width=1),
                             xaxis=xa_name, yaxis=ya_name, showlegend=False, hoverinfo="skip"))
    order = [0, 4, 3, 2, 1]
    for k in order:
        fig.add_trace(go.Scatter(x=p["x"], y=p["ys"][k], mode="lines",
                                 line=dict(color=SERIES_COLORS[k + 1], width=1),
                                 xaxis=xa_name, yaxis=ya_name, showlegend=False,
                                 hoverinfo="skip"))

    if p["side"] == "L":
        tv, tt = LEFT_TICK_VALS, LEFT_TICK_TEXT
    else:
        tv, tt = RIGHT_TICK_VALS, RIGHT_TICK_TEXT

    common = dict(ticks="outside", ticklen=4, tickwidth=1, tickcolor="#5a5a5a",
                  tickfont=dict(size=7.5, color="#2a2a2a", family=FONT),
                  showgrid=True, gridcolor="#e4e4e4", gridwidth=1, zeroline=False,
                  showline=True, linecolor="#9a9a9a", linewidth=1, mirror=True,
                  fixedrange=True)
    layout_axes["xaxis" if n == 1 else f"xaxis{n}"] = dict(
        domain=[fx(ox + px0), fx(ox + px1)], range=p["xr"], anchor=ya_name,
        tickmode="array", tickvals=tv, ticktext=tt, ticklabelstandoff=1, **common)
    layout_axes["yaxis" if n == 1 else f"yaxis{n}"] = dict(
        domain=[fy(oy + py1), fy(oy + py0)], range=p["yr"], anchor=xa_name,
        tickmode="linear", tick0=p["yr"][0], dtick=p["dy"], ticklabelstandoff=1, **common)

# outer Word-table grid
GRID_V = [2.5, 646, 1287.5]
GRID_H = [2.5, 53, 404, 453, 803, 852, 1198.5]
for gx in GRID_V:
    shapes.append(dict(type="line", xref="paper", yref="paper", x0=fx(gx), x1=fx(gx),
                       y0=fy(1.5), y1=fy(1199.5), line=dict(color="#000000", width=3), layer="above"))
for gy in GRID_H:
    shapes.append(dict(type="line", xref="paper", yref="paper", x0=fx(1.5), x1=fx(1288.5),
                       y0=fy(gy), y1=fy(gy), line=dict(color="#000000", width=3 if gy in (2.5, 1198.5) else 2),
                       layer="above"))

fig.update_layout(
    width=W, height=H, autosize=False, margin=dict(l=0, r=0, t=0, b=0, pad=0),
    paper_bgcolor="#ffffff", plot_bgcolor="rgba(0,0,0,0)",
    showlegend=False, font=dict(family=FONT),
    shapes=shapes, annotations=annotations, **layout_axes,
)

# page placement: pin the figure to the top-left corner of the page
PAGE_JS = (
    "document.documentElement.style.overflow='hidden';"
    "document.body.style.margin='0';document.body.style.overflow='hidden';"
    "var g=document.getElementsByClassName('plotly-graph-div')[0];"
    "g.style.position='absolute';g.style.left='0px';g.style.top='0px';"
    "g.style.transformOrigin='0 0';"
    "g.style.transform='translate(-13.8px,-4.4px) scale(1.0225,1.008)';"
)
fig.write_html("out.html", config={"displayModeBar": False, "responsive": False},
               post_script=PAGE_JS)
